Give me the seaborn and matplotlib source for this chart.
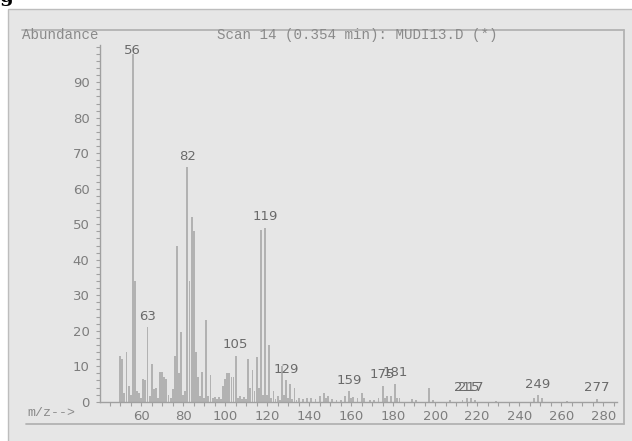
import matplotlib
matplotlib.use("Agg")
import matplotlib.pyplot as plt
from matplotlib.lines import Line2D
from matplotlib.patches import Rectangle
from matplotlib.ticker import MultipleLocator
import pandas as pd
import seaborn as sns

# Mass spectrum: m/z values and relative abundances
mz = [50, 51, 52, 53, 54, 55, 56, 57, 58, 59, 60, 61, 62, 63, 64, 65, 66, 67, 68,
      69, 70, 71, 72, 73, 74, 75, 76, 77, 78, 79, 80, 81, 82, 83, 84, 85, 86, 87,
      88, 89, 90, 91, 92, 93, 94, 95, 96, 97, 98, 99, 100, 101, 102, 103, 104,
      105, 106, 107, 108, 109, 110, 111, 112, 113, 114, 115, 116, 117, 118, 119,
      120, 121, 122, 123, 124, 125, 126, 127, 128, 129, 130, 131, 132, 133, 134,
      135, 137, 139, 141, 143, 145, 147, 148, 149, 151, 153, 155, 157, 159, 160,
      161, 163, 165, 166, 169, 171, 173, 175, 176, 177, 179, 181, 182, 183, 189,
      191, 197, 199, 207, 213, 215, 217, 219, 229, 247, 249, 251, 263, 277]
abundance = [13, 12, 2.5, 14, 4.5, 2, 98, 34, 3, 2.5, 1, 6.5, 6, 21, 1.5, 10.5,
             3.5, 4, 1, 8.5, 8.5, 7, 6.5, 2, 1, 3.5, 13, 44, 8, 19.5, 2, 3, 66,
             34, 52, 48, 14, 7, 1.5, 8.5, 1, 23, 1.5, 7.5, 1, 1.2, 0.8, 1.2, 0.8,
             4.5, 6.5, 8, 8, 7, 7, 13, 1, 1.5, 0.8, 1.2, 0.8, 12, 4, 9, 3, 12.5,
             4, 48.5, 2, 49, 2, 16, 1, 3, 0.8, 1.5, 0.5, 10, 2, 6, 1, 5, 0.8, 4,
             0.5, 1, 0.8, 1, 1, 0.8, 1.5, 2.5, 1, 1.5, 0.8, 0.6, 0.6, 1.5, 3, 1,
             1.2, 1, 2.5, 1, 0.5, 0.6, 1, 4.5, 1, 1.5, 1.5, 5, 1, 1, 0.8, 0.4,
             3.8, 0.4, 0.4, 0.6, 1, 1, 0.4, 0.3, 1, 1.8, 1, 0.3, 0.8]
labeled_mz = [56, 63, 82, 105, 119, 129, 159, 175, 181, 215, 217, 249, 277]
x_ticks = [60, 80, 100, 120, 140, 160, 180, 200, 220, 240, 260, 280]
y_ticks = [0, 10, 20, 30, 40, 50, 60, 70, 80, 90]
title = "Scan 14 (0.354 min): MUDI13.D (*)"

W, H = 632, 441
sns.set_theme(style="white")
plt.rcParams["font.family"] = ["DejaVu Sans"]

fig = plt.figure(figsize=(W / 100, H / 100), dpi=100)
fig.patch.set_facecolor("white")


def fx(px):
    return px / W


def fy(py):
    return 1 - py / H


# grey window panel and its inner frame
fig.add_artist(Rectangle((fx(8), -0.01), 1.0, fy(9) + 0.01, transform=fig.transFigure,
                         facecolor="#e6e6e6", edgecolor="#bdbdbd", lw=1.0, zorder=0))
frame_kw = dict(transform=fig.transFigure, color="#b3b3b3", lw=1.3, zorder=1)
fig.add_artist(Line2D([fx(22), fx(624)], [fy(30), fy(30)], **frame_kw))
fig.add_artist(Line2D([fx(624), fx(624)], [fy(30), fy(424)], **frame_kw))
fig.add_artist(Line2D([fx(26), fx(624)], [fy(424), fy(424)], **frame_kw))

# caption fragment above the panel
fig.text(fx(14), fy(2), "Fig", ha="right", va="baseline", fontsize=14,
         fontweight="bold", family="DejaVu Serif", color="black")

base_px, top_px = 401.7, 45.0
px_per_unit = 3.549
ax = fig.add_axes([fx(100), fy(base_px), fx(617) - fx(100), (base_px - top_px) / H])
ax.set_facecolor("none")

df = pd.DataFrame({"mz": mz, "abundance": abundance})
sns.barplot(data=df, x="mz", y="abundance", native_scale=True, width=0.9,
            color="#b2b2b2", saturation=1, linewidth=0, errorbar=None, ax=ax)

ymax = (base_px - top_px) / px_per_unit
ax.set_xlim(40.4, 286.6)
ax.set_ylim(0, ymax)
ax.set_xlabel("")
ax.set_ylabel("")

for side in ("top", "right"):
    ax.spines[side].set_visible(False)
for side in ("left", "bottom"):
    ax.spines[side].set_color("#a0a0a0")
    ax.spines[side].set_linewidth(1.0)

ax.set_xticks(x_ticks)
ax.set_yticks(y_ticks)
ax.xaxis.set_minor_locator(MultipleLocator(5))
ax.yaxis.set_minor_locator(MultipleLocator(2))
ax.tick_params(which="both", direction="out", length=3, width=0.8, color="#a0a0a0",
               bottom=True, left=True)
ax.tick_params(axis="both", which="major", labelsize=9.5, labelcolor="#7d7d7d")
ax.tick_params(axis="y", which="major", pad=4.5)
ax.tick_params(axis="x", which="major", pad=3)

# m/z labels above selected peaks
lookup = dict(zip(mz, abundance))
label_top = ymax - 1.5
for m in labeled_mz:
    y = min(lookup[m] + 11 / px_per_unit, label_top)
    ax.text(m, y, str(m), ha="center", va="center", fontsize=9.5, color="#6a6a6a")

mono = ["Liberation Mono", "DejaVu Sans Mono"]
fig.text(fx(22), fy(35), "Abundance", family=mono, fontsize=10.2, color="#8a8a8a",
         ha="left", va="center")
fig.text(fx(217), fy(35), title, family=mono, fontsize=10.2, color="#8a8a8a",
         ha="left", va="center")
fig.text(fx(27), fy(413), "m/z-->", family=mono, fontsize=9.5, color="#8a8a8a",
         ha="left", va="center")

fig.savefig("out.png", dpi=100, facecolor="white")
